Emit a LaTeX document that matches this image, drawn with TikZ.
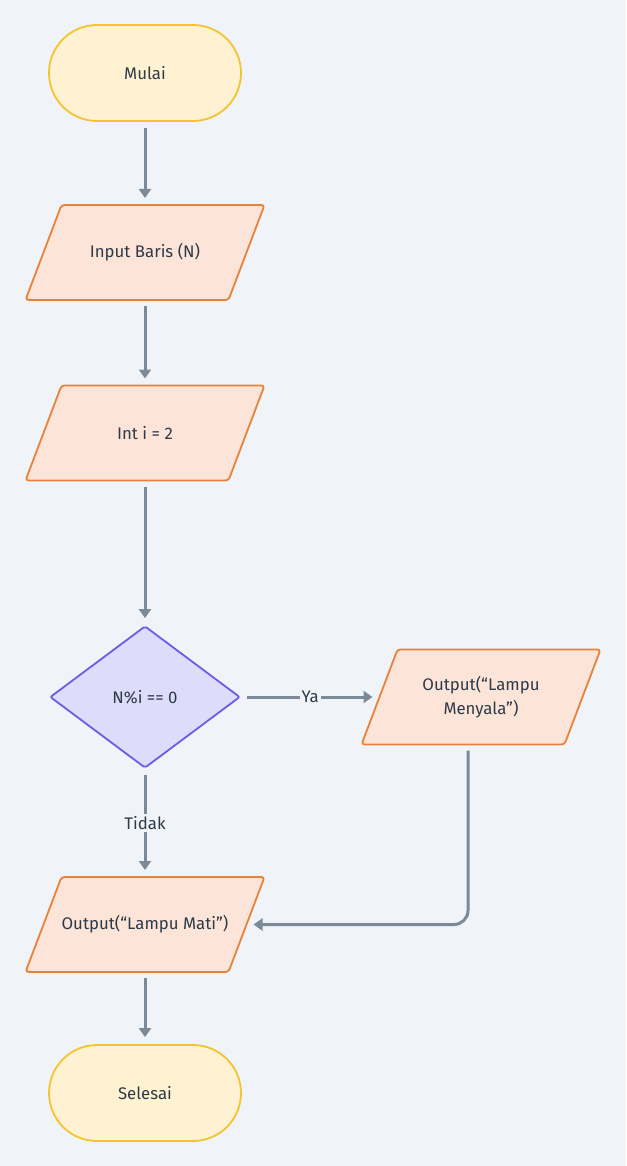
\documentclass[tikz,border=0pt]{standalone}
\usepackage{fontspec}
\setmainfont{Fira Sans}
\usetikzlibrary{shapes.geometric,arrows.meta,calc}
\pgfdeclarelayer{bglayer}
\pgfdeclarelayer{shapelayer}
\pgfsetlayers{bglayer,shapelayer,main}
\definecolor{bgc}{HTML}{F0F4F8}
\definecolor{termfill}{HTML}{FFF2D3}
\definecolor{termdraw}{HTML}{F4C430}
\definecolor{iofill}{HTML}{FCE5D8}
\definecolor{iodraw}{HTML}{E8823A}
\definecolor{decfill}{HTML}{DEDCFA}
\definecolor{decdraw}{HTML}{6C5CE7}
\definecolor{arr}{HTML}{7A8A99}
\definecolor{txt}{HTML}{2D3A48}
\tikzset{
  base/.style={font=\fontsize{16.8}{24}\selectfont, text=txt, line width=1.8pt, align=center},
  term/.style={base, rectangle, rounded corners=48pt, minimum width=192pt, minimum height=96pt, fill=termfill, draw=termdraw},
  iobox/.style={base, rectangle, minimum width=203pt, minimum height=95pt, outer sep=0pt},
  ioshape/.style={line width=1.8pt, rounded corners=3pt, fill=iofill, draw=iodraw},
  decision/.style={base, diamond, minimum width=190pt, minimum height=142pt, rounded corners=2pt, fill=decfill, draw=decdraw},
  conn/.style={draw=arr, line width=3pt, -{Triangle[width=12pt,length=9pt]}, shorten <=6pt, shorten >=7pt},
  lbl/.style={font=\fontsize{16.8}{20}\selectfont, text=txt, fill=bgc, inner sep=2pt}
}
\newcommand\ionode[3]{%
  \node[iobox] (#1) at (#2) {#3};
  \begin{pgfonlayer}{shapelayer}
    \path[ioshape] ([xshift=18pt]#1.north west) -- ([xshift=18pt]#1.north east)
      -- ([xshift=-18pt]#1.south east) -- ([xshift=-18pt]#1.south west) -- cycle;
  \end{pgfonlayer}}
\begin{document}
\begin{tikzpicture}[x=1pt,y=1pt]
\begin{pgfonlayer}{bglayer}
\fill[bgc] (0,0) rectangle (626,-1166);
\end{pgfonlayer}
\useasboundingbox (0,0) rectangle (626,-1166);
\node[term] (start) at (145,-73) {Mulai};
\ionode{inp}{145,-252.5}{Input Baris (N)}
\ionode{init}{145,-433}{Int i = 2}
\node[decision] (dec) at (145,-697) {N\%i == 0};
\ionode{on}{481,-697}{Output(“Lampu\\Menyala”)}
\ionode{off}{145,-924.5}{Output(“Lampu Mati”)}
\node[term] (stop) at (145,-1093) {Selesai};
\coordinate (onout) at ($(on.south)+(-13,0)$);
\draw[conn] (start) -- (inp);
\draw[conn] (inp) -- (init);
\draw[conn] (init) -- (dec);
\draw[conn] (dec.east) -- node[lbl] {Ya} (on.west);
\draw[conn] (dec.south) -- node[lbl, pos=0.5] {Tidak} (off.north);
\draw[conn, rounded corners=14pt] (onout) |- (off.east);
\draw[conn] (off) -- (stop);
\end{tikzpicture}
\end{document}
